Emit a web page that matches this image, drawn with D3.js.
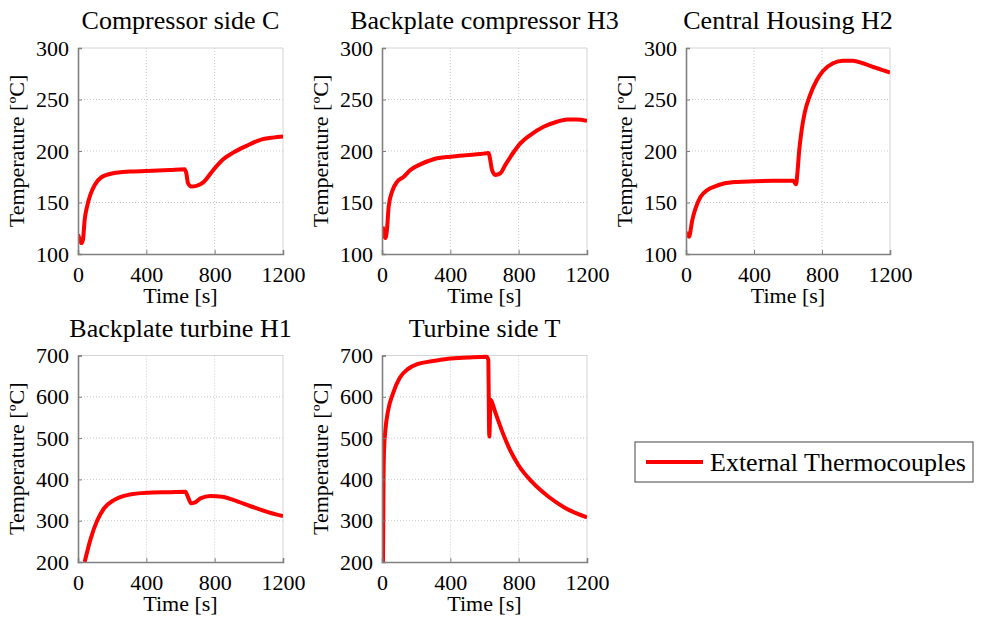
<!DOCTYPE html>
<html>
<head>
<meta charset="utf-8">
<script src="https://cdn.jsdelivr.net/npm/d3@7"></script>
<style>
  html, body { margin: 0; padding: 0; background: #fff; }
  svg { display: block; }
  text { font-family: "Liberation Serif", "Times New Roman", serif; fill: #000; }
</style>
</head>
<body>
<svg id="chart" width="982" height="619"></svg>
<script>
// Axis ticks
const timeTicks = [0, 400, 800, 1200];
const lowTempTicks = [100, 150, 200, 250, 300];
const highTempTicks = [200, 300, 400, 500, 600, 700];

// Measured temperatures, [time s, temperature ºC]
const compressorSideC = [
  [0,119],[4,117],[19.5,110.6],[29,113.9],[39,133],[53,146],[72,157.4],[98,167],[137,174.5],
  [205,178.4],[302,180],[400,180.6],[537,181.6],[624,182.3],[634,178.4],[644,168.7],
  [663,165.5],[693,166.1],[733,169.5],[792,181.6],[850,192],[908,198.4],[986,205],
  [1064,210.6],[1142,213],[1200,214]
];
const backplateCompressorH3 = [
  [4,126.8],[10,120],[20,115.5],[29,123.5],[39,146],[59,160.6],[88,170],[127,175],[166,181.6],
  [224,187],[302,192],[400,194.5],[498,196],[576,197],[624,198],[634,191],[644,181.6],
  [663,176.8],[693,178.4],[722,186.5],[771,199],[810,207.4],[868,215.5],[946,223.5],
  [1024,228.4],[1083,230.6],[1141,230.6],[1200,229.4]
];
const centralHousingH2 = [
  [4,121.6],[17.5,116.8],[37,132.9],[56,144.2],[86,155.5],[125,162],[164,165.2],[222,168.4],
  [300,170],[397,170.6],[514,171],[631,171],[647,167.7],[655,178],[666,200.6],[680,220],
  [699,237.7],[729,253.9],[768,268.4],[807,278],[865,285.2],[924,287.7],[982,287.7],
  [1040,285.2],[1118,280.6],[1200,276.1]
];
const backplateTurbineH1 = [
  [39,200],[74,256],[113,301],[152,329.6],[210,349.8],[288,362],[405,367.6],[542,369],
  [629,370],[643,358],[662,342],[682,343.5],[717,354],[775,359.6],[844,358],[912,350],
  [1010,335],[1107,321.5],[1200,311]
];
const turbineSideT = [
  [6,200],[9,400],[12,471.5],[20,520],[35,565],[65,609],[104,646],[153,667.6],[211,679.7],
  [290,686],[387,692],[505,695],[612,696.8],[622,690],[628,503.6],[636,593],[661,565],
  [700,520],[749,471.5],[798,435],[877,394.5],[975,358],[1072,331],[1200,308]
];

const panelTitles = ["Compressor side C", "Backplate compressor H3", "Central Housing H2",
                     "Backplate turbine H1", "Turbine side T"];
const xLabel = "Time [s]";
const yLabel = "Temperature [ºC]";
const legendLabel = "External Thermocouples";

// Subplot frames
const panels = [
  { title: panelTitles[0], data: compressorSideC,       yTicks: lowTempTicks,  box: [78, 283, 48, 254] },
  { title: panelTitles[1], data: backplateCompressorH3, yTicks: lowTempTicks,  box: [382, 587, 48, 254] },
  { title: panelTitles[2], data: centralHousingH2,      yTicks: lowTempTicks,  box: [686, 890, 48, 254] },
  { title: panelTitles[3], data: backplateTurbineH1,    yTicks: highTempTicks, box: [78, 283, 355.5, 562] },
  { title: panelTitles[4], data: turbineSideT,          yTicks: highTempTicks, box: [382, 587, 355.5, 562] }
];

const svg = d3.select("#chart");
const red = "#ff0000";
const serif = '"Liberation Serif", "Times New Roman", serif';

panels.forEach((p, i) => {
  const [x0, x1, y0, y1] = p.box;
  const x = d3.scaleLinear().domain([0, 1200]).range([x0, x1]);
  const y = d3.scaleLinear().domain(d3.extent(p.yTicks)).range([y1, y0]);
  const g = svg.append("g");

  // dotted grid
  g.selectAll(".gx").data(timeTicks.slice(1, -1)).enter().append("line")
    .attr("x1", d => x(d)).attr("x2", d => x(d)).attr("y1", y0).attr("y2", y1)
    .attr("stroke", "#c8c8c8").attr("stroke-width", 1).attr("stroke-dasharray", "1,2");
  g.selectAll(".gy").data(p.yTicks.slice(1, -1)).enter().append("line")
    .attr("y1", d => y(d)).attr("y2", d => y(d)).attr("x1", x0).attr("x2", x1)
    .attr("stroke", "#c8c8c8").attr("stroke-width", 1).attr("stroke-dasharray", "1,2");

  // light top/right frame
  g.append("path")
    .attr("d", `M${x0},${y0}H${x1}V${y1}`)
    .attr("fill", "none").attr("stroke", "#d4d4d4").attr("stroke-width", 1);

  // clipped data line
  const clipId = "clip" + i;
  svg.append("clipPath").attr("id", clipId).append("rect")
    .attr("x", x0).attr("y", y0 - 2).attr("width", x1 - x0).attr("height", y1 - y0 + 2);
  const line = d3.line().x(d => x(d[0])).y(d => y(d[1])).curve(d3.curveMonotoneX);
  g.append("path").datum(p.data)
    .attr("clip-path", `url(#${clipId})`)
    .attr("d", line)
    .attr("fill", "none").attr("stroke", red).attr("stroke-width", 4)
    .attr("stroke-linejoin", "round");

  // axes (left & bottom) with inward ticks
  const xAxis = d3.axisBottom(x).tickValues(timeTicks).tickSize(-4).tickPadding(10).tickFormat(d3.format("d"));
  const yAxis = d3.axisLeft(y).tickValues(p.yTicks).tickSize(-4).tickPadding(9).tickFormat(d3.format("d"));

  const gx = g.append("g").attr("transform", `translate(0,${y1})`).call(xAxis);
  const gy = g.append("g").attr("transform", `translate(${x0},0)`).call(yAxis);
  [gx, gy].forEach(a => {
    a.attr("font-family", serif).attr("font-size", 22);
    a.select(".domain").attr("stroke", "#808080").attr("stroke-width", 1.6);
    a.selectAll(".tick line").attr("stroke", "#808080");
    a.selectAll(".tick text")
      .style("font-family", serif)
      .style("font-size", "22px").attr("fill", "#000");
  });
  gx.selectAll(".tick text").attr("dy", "0.82em");

  // labels
  g.append("text").attr("x", (x0 + x1) / 2).attr("y", y1 + 49)
    .attr("text-anchor", "middle").style("font-size", "22px").text(xLabel);
  g.append("text")
    .attr("transform", `translate(${x0 - 54},${(y0 + y1) / 2}) rotate(-90)`)
    .attr("text-anchor", "middle").style("font-size", "22px").text(yLabel);
  g.append("text").attr("x", (x0 + x1) / 2).attr("y", y0 - 19)
    .attr("text-anchor", "middle").style("font-size", "26px").text(p.title);
});

// legend
const lg = svg.append("g");
lg.append("rect").attr("x", 635).attr("y", 442).attr("width", 338).attr("height", 40)
  .attr("fill", "#fff").attr("stroke", "#444").attr("stroke-width", 1);
lg.append("line").attr("x1", 646).attr("x2", 703).attr("y1", 462).attr("y2", 462)
  .attr("stroke", red).attr("stroke-width", 4);
lg.append("text").attr("x", 710).attr("y", 471).style("font-size", "26px").text(legendLabel);
</script>
</body>
</html>
